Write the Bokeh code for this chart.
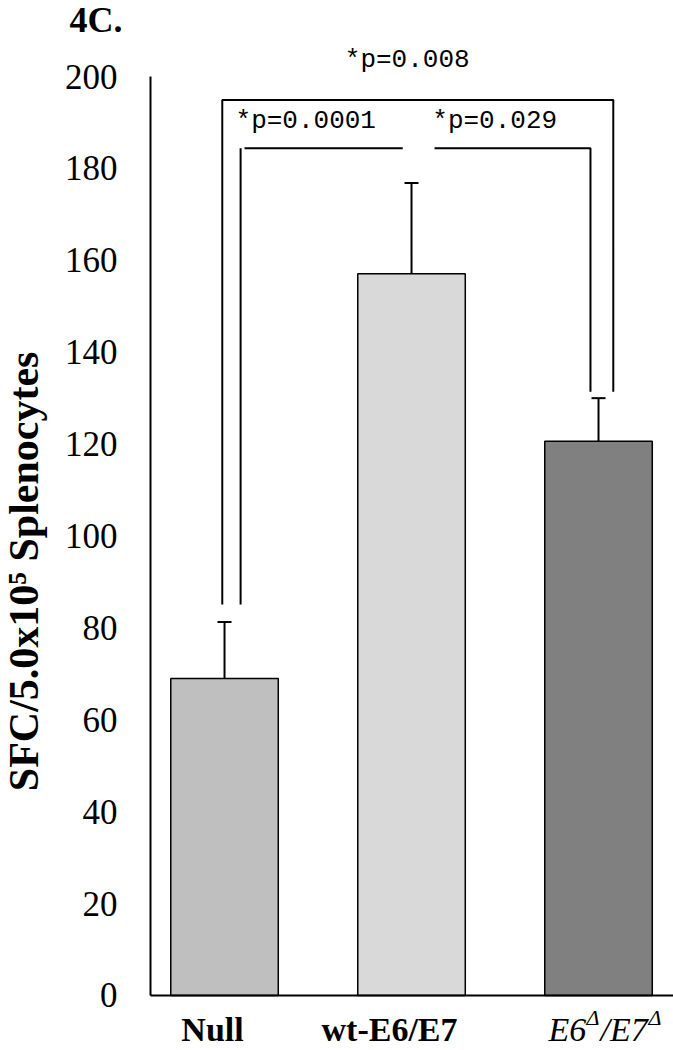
import math
from bokeh.plotting import figure
from bokeh.models import Range1d, FixedTicker, ColumnDataSource, Whisker, TeeHead, Label
from bokeh.embed import file_html
from bokeh.resources import INLINE

# ---------------- data ----------------
categories = ["Null", "wt-E6/E7", "E6Δ/E7Δ"]
means = [69.0, 157.1, 120.6]
errors = [12.3, 19.7, 9.4]
bar_colors = ["#BFBFBF", "#D9D9D9", "#808080"]
y_ticks = [0, 20, 40, 60, 80, 100, 120, 140, 160, 180, 200]
p_labels = ["*p=0.0001", "*p=0.029", "*p=0.008"]
panel_label = "4C."
y_title = "SFC/5.0x10⁵ Splenocytes"

# ---------------- figure ----------------
xs = [1, 2, 3]
upper = [m + e for m, e in zip(means, errors)]
lower = [m - e for m, e in zip(means, errors)]

X0, X1 = -0.198, 3.401      # full canvas width in data units
Y0, Y1 = -11.97, 216.54     # full canvas height in data units
AXIS_X = 0.604              # where the y axis line sits

p = figure(width=673, height=1050,
           x_range=Range1d(X0, X1), y_range=Range1d(Y0, Y1),
           output_backend="svg", toolbar_location=None,
           min_border_left=0, min_border_right=0,
           min_border_top=0, min_border_bottom=0)
p.outline_line_color = None
p.xgrid.visible = False
p.ygrid.visible = False
p.background_fill_color = "white"
p.border_fill_color = "white"

# y axis
ya = p.yaxis[0]
ya.fixed_location = AXIS_X
ya.ticker = FixedTicker(ticks=y_ticks)
ya.bounds = (0, 200)
ya.major_tick_line_color = None
ya.minor_tick_line_color = None
ya.major_tick_out = 0
ya.major_tick_in = 0
ya.major_label_standoff = 33
ya.major_label_text_font = "Liberation Serif"
ya.major_label_text_font_size = "35px"
ya.major_label_text_color = "black"
ya.axis_line_width = 2
ya.axis_line_color = "black"

# x axis
xa = p.xaxis[0]
xa.fixed_location = 0
xa.bounds = (AXIS_X, X1)
xa.ticker = FixedTicker(ticks=[])
xa.major_tick_line_color = None
xa.minor_tick_line_color = None
xa.major_label_text_font_size = "0px"
xa.axis_line_width = 2
xa.axis_line_color = "black"

src = ColumnDataSource(dict(x=xs, top=means, color=bar_colors, upper=upper, lower=lower))
p.vbar(x="x", top="top", width=0.575, bottom=0, fill_color="color",
       line_color="black", line_width=1.5, source=src)

wh = Whisker(base="x", upper="upper", lower="lower", source=src,
             line_color="black", line_width=2,
             upper_head=TeeHead(size=14, line_color="black", line_width=2),
             lower_head=TeeHead(size=14, line_color="black", line_width=2))
p.add_layout(wh)

# significance brackets
b_xs = [[0.988, 0.988, 3.079, 3.079],
        [1.086, 1.086],
        [1.107, 1.953],
        [2.123, 2.957, 2.957]]
b_ys = [[85.1, 194.9, 194.9, 131.4],
        [85.1, 184.4],
        [184.4, 184.4],
        [184.4, 184.4, 131.4]]
p.multi_line(xs=b_xs, ys=b_ys, line_color="black", line_width=2)

mono = "Liberation Mono"
p.add_layout(Label(x=1.059, y=190.4, text=p_labels[0], text_font=mono, text_color="black",
                   text_font_size="26px", text_align="left", text_baseline="middle"))
p.add_layout(Label(x=2.111, y=190.4, text=p_labels[1], text_font=mono, text_color="black",
                   text_font_size="26px", text_align="left", text_baseline="middle"))
p.add_layout(Label(x=1.977, y=203.5, text=p_labels[2], text_font=mono, text_color="black",
                   text_font_size="26px", text_align="center", text_baseline="middle"))

serif = "Liberation Serif"
# panel label
p.add_layout(Label(x=0.171, y=212.4, text=panel_label, text_font=serif, text_color="black",
                   text_font_style="bold", text_font_size="36px",
                   text_align="left", text_baseline="alphabetic"))

# y axis title
p.add_layout(Label(x=-0.075, y=92.3, text=y_title, text_font=serif, text_color="black",
                   text_font_style="bold", text_font_size="42px", angle=math.pi / 2,
                   text_align="center", text_baseline="alphabetic"))

# category labels
base_y = -7.4
label_shift = [-12, -22, 7]
p.add_layout(Label(x=xs[0], y=base_y, x_offset=label_shift[0], text=categories[0],
                   text_font=serif, text_font_style="bold", text_font_size="34px",
                   text_color="black", text_align="center", text_baseline="alphabetic"))
p.add_layout(Label(x=xs[1], y=base_y, x_offset=label_shift[1], text=categories[1],
                   text_font=serif, text_font_style="bold", text_font_size="34px",
                   text_color="black", text_align="center", text_baseline="alphabetic"))
# italic E6Δ/E7Δ with superscript deltas
parts = [("E6", 0, "34px"), ("Δ", 1, "22px"), ("/E7", 0, "34px"), ("Δ", 1, "22px")]
widths = [38, 14, 48, 14]
off = label_shift[2] - sum(widths) / 2
for (t, sup, fs), w in zip(parts, widths):
    p.add_layout(Label(x=xs[2], y=base_y, x_offset=off, y_offset=12 if sup else 0,
                       text=t, text_font=serif, text_font_style="italic", text_color="black",
                       text_font_size=fs, text_align="left", text_baseline="alphabetic"))
    off += w

open("out.html", "w").write(file_html(p, INLINE))
